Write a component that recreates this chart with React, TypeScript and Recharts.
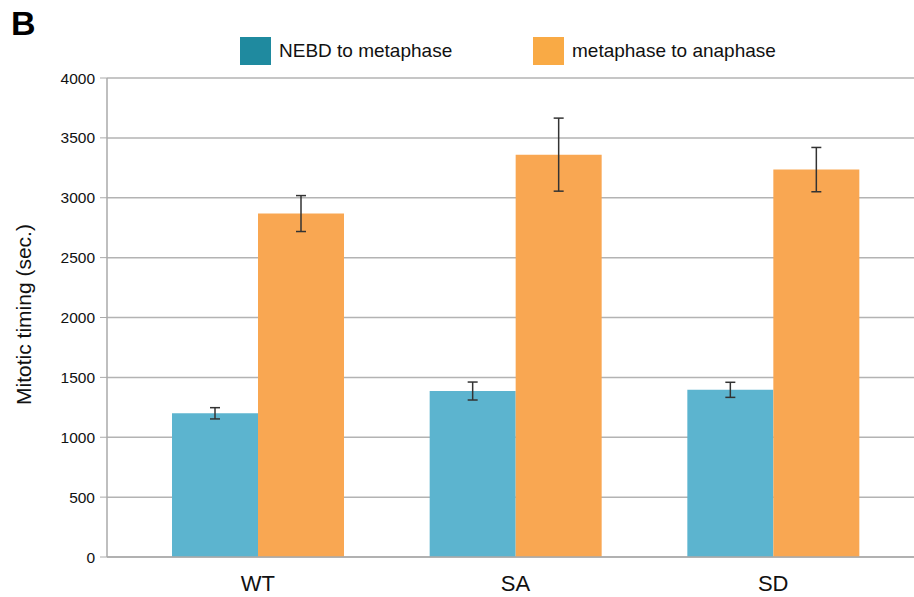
import React from "react";
import {
  Bar,
  BarChart,
  CartesianGrid,
  ErrorBar,
  XAxis,
  YAxis,
} from "recharts";

// values (seconds)
const strains = ["WT", "SA", "SD"];
const nebdToMeta = [1200, 1386, 1396];
const nebdErr = [47, 75, 63];
const metaToAna = [2868, 3360, 3235];
const metaErr = [150, 305, 185];
const yTicks = [0, 500, 1000, 1500, 2000, 2500, 3000, 3500, 4000];

const chartData = strains.map((name, i) => ({
  name,
  nebd: nebdToMeta[i],
  nebdErr: nebdErr[i],
  meta: metaToAna[i],
  metaErr: metaErr[i],
}));

const FONT = '"Liberation Sans", Arial, Helvetica, sans-serif';

const legendItems = [
  { label: "NEBD to metaphase", color: "#1f8a9f", left: 240 },
  { label: "metaphase to anaphase", color: "#f9aa45", left: 533 },
];

const YLabel = (props: any) => {
  const { viewBox } = props;
  const cy = viewBox.y + viewBox.height / 2 - 3;
  return (
    <text
      x={23}
      y={cy}
      transform={`rotate(-90, 23, ${cy})`}
      textAnchor="middle"
      dominantBaseline="central"
      fontSize={21}
      fill="#111"
      fontFamily={FONT}
    >
      Mitotic timing (sec.)
    </text>
  );
};

export default function App() {
  return (
    <div
      style={{
        position: "absolute",
        left: 0,
        top: 0,
        width: 914,
        height: 597,
        background: "#fff",
        fontFamily: FONT,
      }}
    >
      <div
        style={{
          position: "absolute",
          left: 11,
          top: 4,
          fontSize: 34,
          fontWeight: 700,
          color: "#000",
          zIndex: 2,
        }}
      >
        B
      </div>
      {legendItems.map((item) => (
        <div
          key={item.label}
          style={{
            position: "absolute",
            left: item.left,
            top: 37,
            display: "flex",
            alignItems: "center",
            zIndex: 2,
          }}
        >
          <span
            style={{
              display: "inline-block",
              width: 31,
              height: 28,
              background: item.color,
              marginRight: 8,
            }}
          />
          <span style={{ fontSize: 19, color: "#111" }}>{item.label}</span>
        </div>
      ))}
      <BarChart
        width={914}
        height={597}
        data={chartData}
        margin={{ top: 78, right: 0, bottom: 0, left: 0 }}
        barGap={0}
        barCategoryGap={43}
      >
        <CartesianGrid vertical={false} stroke="#b3b3b3" strokeWidth={1.5} />
        <XAxis
          dataKey="name"
          padding={{ left: 22, right: 12 }}
          axisLine={{ stroke: "#aaa", strokeWidth: 1.5 }}
          tickLine={false}
          tickMargin={12}
          tick={{ fontSize: 22, fill: "#111", fontFamily: FONT }}
          height={40}
        />
        <YAxis
          domain={[0, 4000]}
          ticks={yTicks}
          interval={0}
          width={107}
          axisLine={{ stroke: "#aaa", strokeWidth: 1.5 }}
          tickLine={{ stroke: "#aaa" }}
          tickSize={7}
          tickMargin={5}
          tick={{ fontSize: 15.5, fill: "#111", fontFamily: FONT }}
          label={<YLabel />}
        />
        <Bar dataKey="nebd" fill="#5cb4cf" isAnimationActive={false}>
          <ErrorBar
            dataKey="nebdErr"
            direction="y"
            width={5}
            stroke="#333"
            strokeWidth={1.5}
          />
        </Bar>
        <Bar dataKey="meta" fill="#f9a752" isAnimationActive={false}>
          <ErrorBar
            dataKey="metaErr"
            direction="y"
            width={5}
            stroke="#333"
            strokeWidth={1.5}
          />
        </Bar>
      </BarChart>
    </div>
  );
}
